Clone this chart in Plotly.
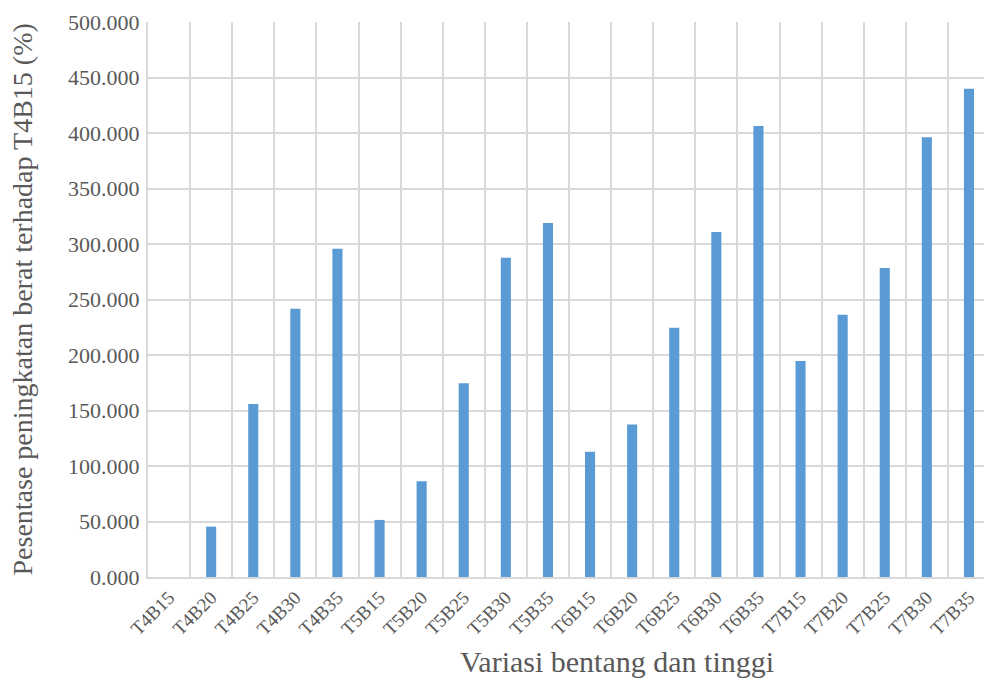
import plotly.graph_objects as go

categories = ["T4B15", "T4B20", "T4B25", "T4B30", "T4B35",
              "T5B15", "T5B20", "T5B25", "T5B30", "T5B35",
              "T6B15", "T6B20", "T6B25", "T6B30", "T6B35",
              "T7B15", "T7B20", "T7B25", "T7B30", "T7B35"]
values = [0.0, 45.4, 155.9, 241.7, 295.8,
          51.4, 86.2, 174.5, 287.7, 318.9,
          112.9, 137.5, 224.6, 310.8, 406.3,
          194.6, 236.3, 278.4, 396.1, 439.9]
y_ticks = [0, 50, 100, 150, 200, 250, 300, 350, 400, 450, 500]
x_title = "Variasi bentang dan tinggi"
y_title = "Pesentase peningkatan berat terhadap T4B15 (%)"

font_family = "Liberation Serif, Times New Roman, serif"
grid = "#D9D9D9"

fig = go.Figure(go.Bar(x=categories, y=values, marker_color="#5B9BD5",
                       marker_line_width=0))

fig.update_layout(
    width=992, height=680,
    margin=dict(l=140, r=10, t=14, b=111),
    paper_bgcolor="white", plot_bgcolor="white",
    bargap=0.76,
    font=dict(family=font_family, color="#595959"),
    showlegend=False,
    annotations=[
        dict(text=y_title, xref="paper", yref="paper", x=0, y=0.5,
             xshift=-126, xanchor="center", yanchor="middle", textangle=-90,
             showarrow=False, font=dict(size=28, family=font_family, color="#595959")),
        dict(text=x_title, xref="paper", yref="paper", x=0.5, y=0,
             xshift=48, yshift=-84, xanchor="center", yanchor="middle",
             showarrow=False, font=dict(size=30, family=font_family, color="#595959")),
    ],
)
fig.update_xaxes(
    type="category",
    automargin=False,
    tickson="boundaries",
    showgrid=True, gridcolor=grid, gridwidth=2,
    showline=True, linecolor=grid, linewidth=2,
    ticks="", tickangle=-45,
    tickfont=dict(size=19, family=font_family, color="#595959"),
)
fig.update_yaxes(
    automargin=False,
    range=[0, 500],
    tickvals=y_ticks,
    tickformat=".3f",
    showgrid=True, gridcolor=grid, gridwidth=2,
    zeroline=False, showline=True, mirror=True, linecolor=grid, linewidth=2,
    ticks="", ticklabelstandoff=2,
    tickfont=dict(size=22, family=font_family, color="#595959"),
)

fig.write_html("out.html")
